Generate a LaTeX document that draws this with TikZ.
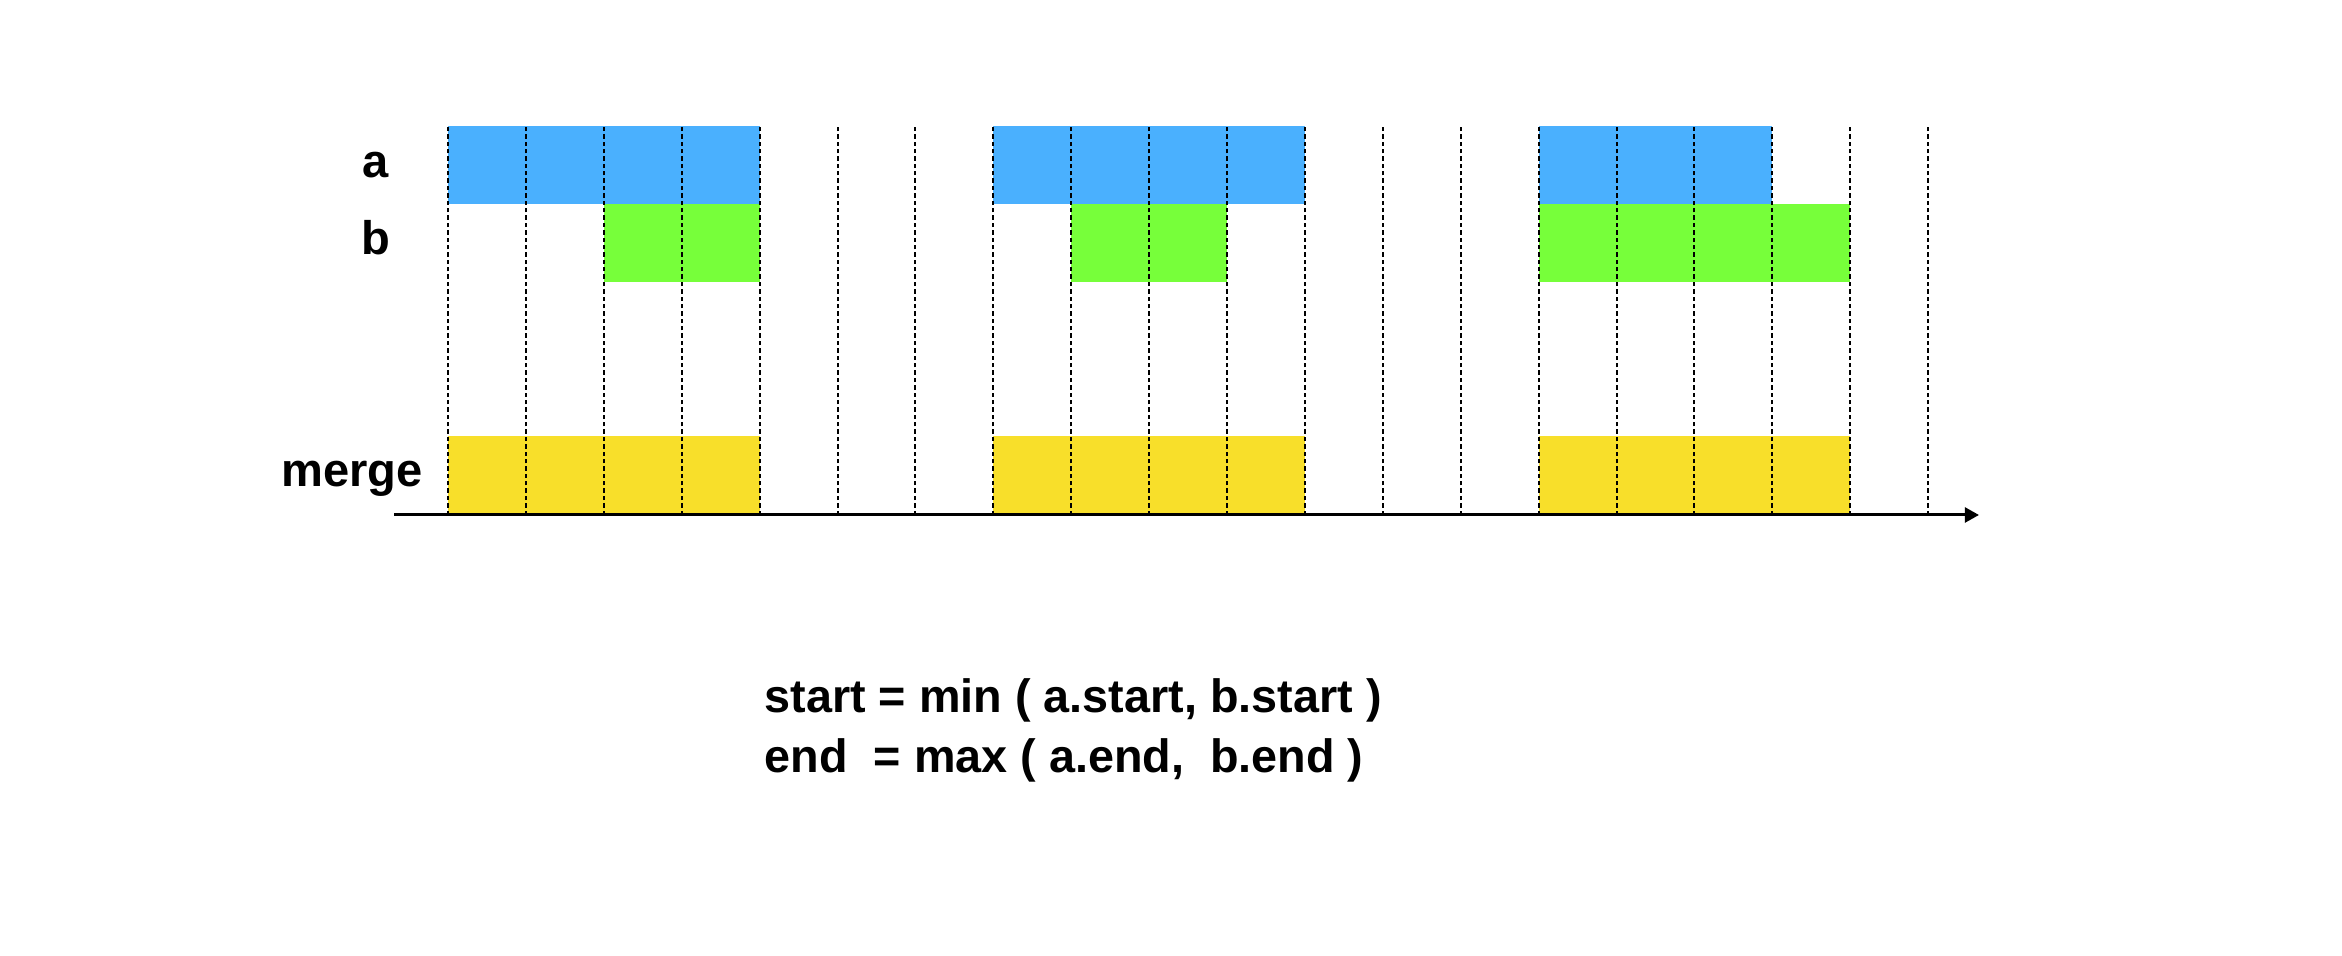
\documentclass[tikz,border=0pt]{standalone}
\usepackage{fontspec}
\setmainfont{Liberation Sans}
\usepackage{tikz}
\usetikzlibrary{arrows.meta}

\definecolor{barblue}{HTML}{4AB0FE}
\definecolor{bargreen}{HTML}{77FF3A}
\definecolor{baryellow}{HTML}{F8DF2A}

\tikzset{
	gridline/.style={black, line width=0.57pt, dash pattern=on 1.25pt off 0.85pt},
	rowlabel/.style={font=\fontsize{13.4}{17}\selectfont\bfseries, inner sep=0pt},
	formula/.style={font=\fontsize{13.3}{17}\selectfont\bfseries, inner sep=0pt, anchor=base west},
	axisline/.style={black, line width=0.85pt, -{Triangle[length=4pt,width=4.2pt]}}
}

\begin{document}
\begin{tikzpicture}
	\useasboundingbox (0,0) rectangle (23.42,9.56);
	
	%bars - a
	\fill[barblue] (4.48,7.52) rectangle (7.596,8.30);
	\fill[barblue] (9.933,7.52) rectangle (13.049,8.30);
	\fill[barblue] (15.386,7.52) rectangle (17.723,8.30);
	%bars - b
	\fill[bargreen] (6.038,6.74) rectangle (7.596,7.52);
	\fill[bargreen] (10.712,6.74) rectangle (12.27,7.52);
	\fill[bargreen] (15.386,6.74) rectangle (18.502,7.52);
	%bars - merge
	\fill[baryellow] (4.48,4.41) rectangle (7.596,5.20);
	\fill[baryellow] (9.933,4.41) rectangle (13.049,5.20);
	\fill[baryellow] (15.386,4.41) rectangle (18.502,5.20);
	
	%dashed lines
	\draw[gridline] (4.48,4.41)--(4.48,8.30);
	\draw[gridline] (5.259,4.41)--(5.259,8.30);
	\draw[gridline] (6.038,4.41)--(6.038,8.30);
	\draw[gridline] (6.817,4.41)--(6.817,8.30);
	\draw[gridline] (7.596,4.41)--(7.596,8.30);
	\draw[gridline] (8.375,4.41)--(8.375,8.30);
	\draw[gridline] (9.154,4.41)--(9.154,8.30);
	\draw[gridline] (9.933,4.41)--(9.933,8.30);
	\draw[gridline] (10.712,4.41)--(10.712,8.30);
	\draw[gridline] (11.491,4.41)--(11.491,8.30);
	\draw[gridline] (12.27,4.41)--(12.27,8.30);
	\draw[gridline] (13.049,4.41)--(13.049,8.30);
	\draw[gridline] (13.828,4.41)--(13.828,8.30);
	\draw[gridline] (14.607,4.41)--(14.607,8.30);
	\draw[gridline] (15.386,4.41)--(15.386,8.30);
	\draw[gridline] (16.165,4.41)--(16.165,8.30);
	\draw[gridline] (16.944,4.41)--(16.944,8.30);
	\draw[gridline] (17.723,4.41)--(17.723,8.30);
	\draw[gridline] (18.502,4.41)--(18.502,8.30);
	\draw[gridline] (19.281,4.41)--(19.281,8.30);
	
	%time axis
	\coordinate (axstart) at (3.94,4.41);
	\coordinate (axend) at (19.79,4.41);
	\draw[axisline] (axstart)--(axend);
	
	%row labels
	\node[rowlabel, anchor=base] (lbla) at (3.76,7.78) {a};
	\node[rowlabel, anchor=base] (lblb) at (3.76,7.01) {b};
	\node[rowlabel, anchor=base] (lblmerge) at (3.52,4.69) {merge};
	
	%formula
	\node[formula] (fstart) at (7.64,2.43) {start = min ( a.start, b.start )};
	\node[formula] (fend) at (7.64,1.83) {end\ \ = max ( a.end,\ \ b.end )};
	
	%\draw[help lines] (0,0) grid (23,9);
\end{tikzpicture}
\end{document}
